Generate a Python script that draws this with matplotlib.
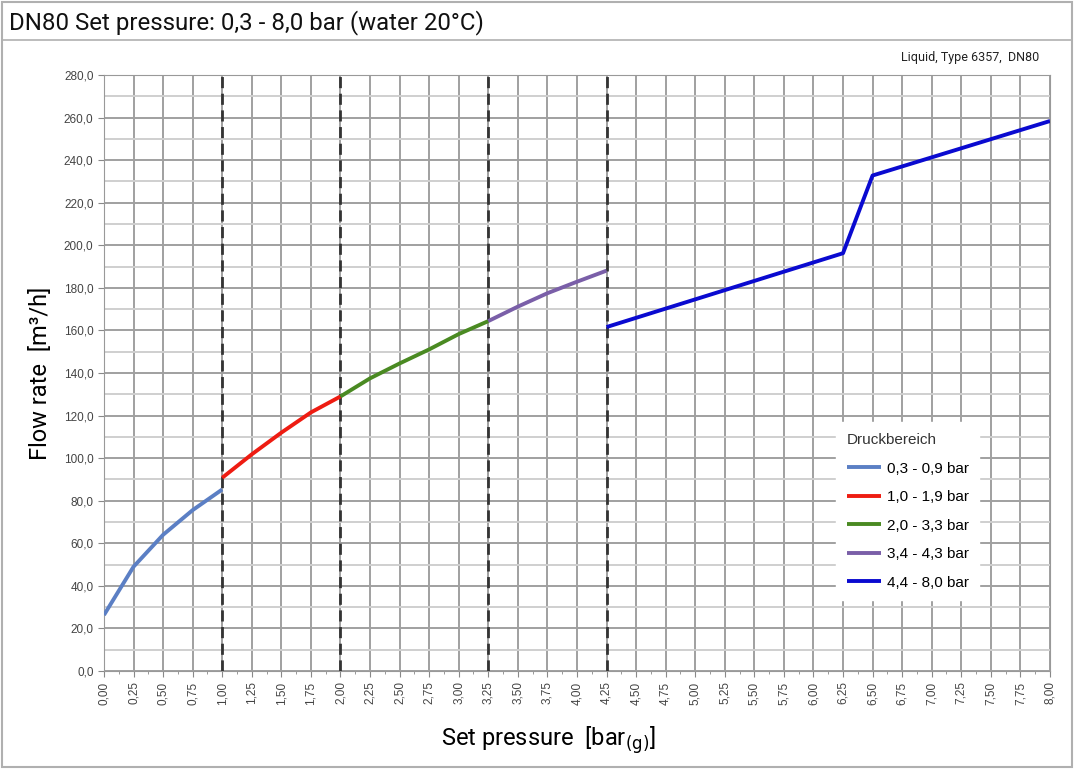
import matplotlib
matplotlib.use("Agg")
from matplotlib import pyplot as plt
from matplotlib.patches import Rectangle
from matplotlib.lines import Line2D
from matplotlib.ticker import MultipleLocator, FuncFormatter

# data
x1 = [0.00, 0.25, 0.50, 0.75, 1.00]
y1 = [26.3, 49.0, 64.0, 75.6, 85.3]
x2 = [1.00, 1.25, 1.50, 1.75, 2.00]
y2 = [90.8, 101.8, 112.0, 121.5, 129.0]
x3 = [2.00, 2.25, 2.50, 2.75, 3.00, 3.25]
y3 = [129.0, 137.5, 144.5, 151.1, 158.3, 164.4]
x4 = [3.25, 3.50, 3.75, 4.00, 4.25]
y4 = [164.4, 171.2, 177.5, 182.9, 188.1]
x5 = [4.25, 6.25, 6.50, 8.00]
y5 = [161.6, 196.3, 232.8, 258.4]

series = [(x1, y1), (x2, y2), (x3, y3), (x4, y4), (x5, y5)]
labels = ["0,3 - 0,9 bar", "1,0 - 1,9 bar", "2,0 - 3,3 bar", "3,4 - 4,3 bar", "4,4 - 8,0 bar"]
colors = ["#5b7fc4", "#ee1c12", "#4a8a22", "#7a5fa8", "#0a0ad0"]
limits = [1.0, 2.0, 3.25, 4.25]

fig = plt.figure(figsize=(10.74, 7.69), dpi=100)

# outer frame and header strip
fig.patches.append(Rectangle((0.002, 0.002), 0.996, 0.995, transform=fig.transFigure,
                             fill=False, edgecolor="#b0b0b0", linewidth=1.5))
fig.lines.append(Line2D([0.002, 0.998], [0.948, 0.948], transform=fig.transFigure,
                        color="#b0b0b0", linewidth=1.2))
fig.text(0.008, 0.971, "DN80 Set pressure: 0,3 - 8,0 bar (water 20°C)", family="Roboto",
         fontsize=17.3, va="center", ha="left", color="#111111")
fig.text(0.968, 0.925, "Liquid, Type 6357,  DN80", family="Roboto", fontsize=9,
         ha="right", va="center", color="#222222")

ax = fig.add_axes([0.0968, 0.1274, 0.8808, 0.7750])

for (xs, ys), c, lab in zip(series, colors, labels):
    ax.plot(xs, ys, color=c, linewidth=2.8, label=lab, zorder=4, solid_capstyle="butt")

for xv in limits:
    ax.axvline(xv, color="#333333", linestyle=(0, (4, 2)), linewidth=2, zorder=3)

ax.set_xlim(0, 8)
ax.set_ylim(0, 280)
ax.xaxis.set_major_locator(MultipleLocator(0.25))
ax.xaxis.set_minor_locator(MultipleLocator(0.125))
ax.yaxis.set_major_locator(MultipleLocator(20))
ax.yaxis.set_minor_locator(MultipleLocator(10))
ax.xaxis.set_major_formatter(FuncFormatter(lambda v, p: f"{v:.2f}".replace(".", ",")))
ax.yaxis.set_major_formatter(FuncFormatter(lambda v, p: f"{v:.1f}".replace(".", ",")))

ax.grid(which="major", color="#a0a0a0", linewidth=1.4, zorder=1)
ax.grid(which="minor", axis="y", color="#cfcfcf", linewidth=1.4, zorder=1)
ax.set_axisbelow(True)

ax.tick_params(axis="x", which="major", labelrotation=90, labelsize=8.5, length=4,
               color="#888888", labelcolor="#444444")
ax.tick_params(axis="x", which="minor", length=2, color="#888888")
ax.tick_params(axis="y", which="major", labelsize=8.5, length=4, color="#888888",
               labelcolor="#444444")
ax.tick_params(axis="y", which="minor", length=0)
for lab in ax.get_xticklabels() + ax.get_yticklabels():
    lab.set_family("Liberation Sans")
for s in ax.spines.values():
    s.set_color("#999999")

ax.set_ylabel("Flow rate  [m³/h]", family="Roboto", fontsize=17)
ax.yaxis.set_label_coords(-0.055, 0.5)
ax.set_xlabel(r"Set pressure  [bar$_{\mathrm{(g)}}$]", family="Roboto", fontsize=17)
ax.xaxis.set_label_coords(0.47, -0.09)

leg = ax.legend(title="Druckbereich", loc="upper left", bbox_to_anchor=(0.766, 0.43),
                frameon=True, fancybox=False, framealpha=1, edgecolor="white",
                prop={"family": "Liberation Sans", "size": 11}, handlelength=2.2,
                handletextpad=0.4, labelspacing=0.95, borderpad=0.7)
leg.get_title().set_family("Liberation Sans")
leg.get_title().set_fontsize(11)
leg.get_title().set_color("#333333")
leg._legend_box.align = "left"
leg.set_zorder(6)

fig.savefig("out.png", dpi=100)
